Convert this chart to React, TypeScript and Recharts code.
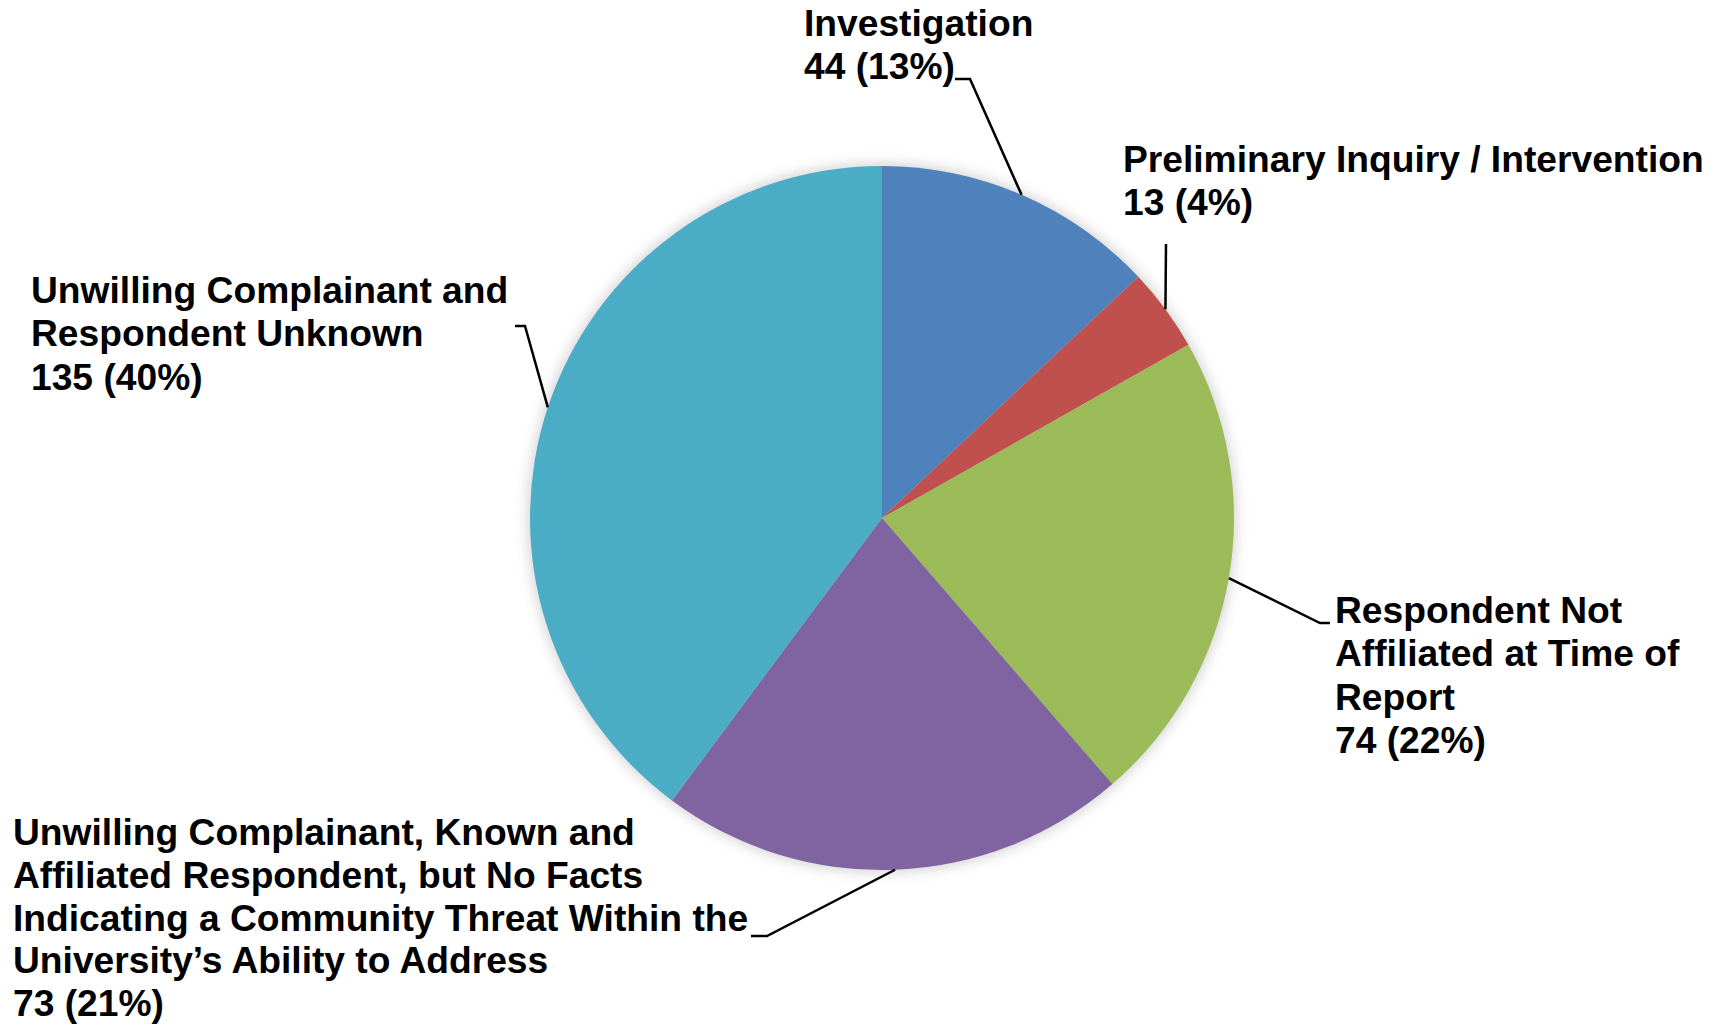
import React from 'react';
import { PieChart, Pie, Cell } from 'recharts';

// values
const categories = [
  'Investigation',
  'Preliminary Inquiry / Intervention',
  'Respondent Not Affiliated at Time of Report',
  'Unwilling Complainant, Known and Affiliated Respondent, but No Facts Indicating a Community Threat Within the University’s Ability to Address',
  'Unwilling Complainant and Respondent Unknown',
];
const counts = [44, 13, 74, 73, 135];
const percentLabels = ['13%', '4%', '22%', '21%', '40%'];
const labelLines = [
  ['Investigation'],
  ['Preliminary Inquiry / Intervention'],
  ['Respondent Not', 'Affiliated at Time of', 'Report'],
  [
    'Unwilling Complainant, Known and',
    'Affiliated Respondent, but No Facts',
    'Indicating a Community Threat Within the',
    'University’s Ability to Address',
  ],
  ['Unwilling Complainant and', 'Respondent Unknown'],
];
const colors = ['#4F81BD', '#C0504D', '#9BBB59', '#8064A2', '#4BACC6'];

// label placement, relative to the pie centre
const labelLayout = [
  { tx: -78, ty: -482, elbow: [88, -439], end: [73, -439] },
  { tx: 241, ty: -346, elbow: [284, -274], end: [284, -274] },
  { tx: 453, ty: 105, elbow: [438, 105], end: [448, 105] },
  { tx: -869, ty: 327, lineH: 42.8, elbow: [-115, 418], end: [-131, 418] },
  { tx: -851, ty: -215, elbow: [-357, -192], end: [-367, -192] },
];

const CX = 877;
const CY = 513;
const R = 352;
const LINE_H = 43.3;
const RADIAN = Math.PI / 180;

const chartData = categories.map((name, i) => ({ name, value: counts[i] }));
const shadowData = [{ name: 'shadow', value: 1 }];

function renderLabel(props: any) {
  const { cx, cy, midAngle, outerRadius, index } = props;
  const layout: any = labelLayout[index];
  const lineH = layout.lineH ?? LINE_H;
  const sx = cx + outerRadius * Math.cos(-midAngle * RADIAN);
  const sy = cy + outerRadius * Math.sin(-midAngle * RADIAN);
  const lines = [...labelLines[index], `${counts[index]} (${percentLabels[index]})`];
  const points = [
    `${sx},${sy}`,
    `${cx + layout.elbow[0]},${cy + layout.elbow[1]}`,
    `${cx + layout.end[0]},${cy + layout.end[1]}`,
  ].join(' ');
  return (
    <g key={`label-${index}`}>
      <polyline points={points} fill="none" stroke="#000" strokeWidth={2.5} />
      <text
        x={cx + layout.tx}
        y={cy + layout.ty}
        fill="#000"
        fontFamily="'Liberation Sans', Arial, sans-serif"
        fontWeight="bold"
        fontSize={37.2}
        textAnchor="start"
      >
        {lines.map((line, i) => (
          <tspan key={i} x={cx + layout.tx} dy={i === 0 ? 0 : lineH}>
            {line}
          </tspan>
        ))}
      </text>
    </g>
  );
}

export default function App() {
  return (
    <div style={{ position: 'absolute', left: 0, top: 0, background: '#fff' }}>
      <PieChart width={1725} height={1026}>
        {/* soft shadow behind the pie */}
        <Pie
          data={shadowData}
          dataKey="value"
          cx={CX}
          cy={CY}
          outerRadius={R + 2}
          startAngle={90}
          endAngle={-270}
          stroke="none"
          label={false}
          labelLine={false}
          isAnimationActive={false}
        >
          <Cell fill="#000" fillOpacity={0.18} style={{ filter: 'blur(7px)' }} />
        </Pie>
        <Pie
          data={chartData}
          dataKey="value"
          nameKey="name"
          cx={CX}
          cy={CY}
          outerRadius={R}
          startAngle={90}
          endAngle={-270}
          stroke="none"
          label={renderLabel}
          labelLine={false}
          isAnimationActive={false}
        >
          {chartData.map((d, i) => (
            <Cell key={d.name} fill={colors[i]} />
          ))}
        </Pie>
      </PieChart>
    </div>
  );
}
